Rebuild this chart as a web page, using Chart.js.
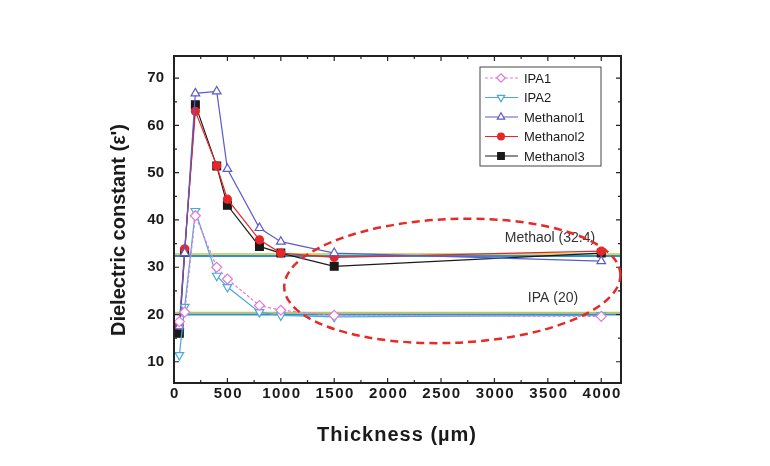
<!DOCTYPE html>
<html>
<head>
<meta charset="utf-8">
<script src="https://cdn.jsdelivr.net/npm/chart.js@4/dist/chart.umd.min.js"></script>
<style>
  html, body { margin: 0; padding: 0; background: #fff; }
  #wrap { width: 770px; height: 466px; position: relative; }
</style>
</head>
<body>
<div id="wrap"><canvas id="chart" width="770" height="466"></canvas></div>
<script>
"use strict";

// --- Data ---
const thickness = [50, 100, 200, 400, 500, 800, 1000, 1500, 4000];
const ipa1 = [18.5, 20.5, 40.9, 30.0, 27.5, 21.9, 20.9, 19.8, 19.6];
const ipa2 = [11.4, 21.6, 41.9, 28.2, 25.8, 20.5, 19.8, 19.5, 19.8];
const methanol1 = [17.5, 33.0, 66.8, 67.2, 50.8, 38.3, 35.4, 33.0, 31.3];
const methanol2 = [17.7, 33.9, 63.0, 51.5, 44.4, 35.8, 33.0, 32.1, 33.4];
const methanol3 = [16.0, 33.2, 64.4, 51.4, 43.1, 34.4, 33.0, 30.2, 33.0];

const xTicks = [0, 500, 1000, 1500, 2000, 2500, 3000, 3500, 4000];
const yTicks = [10, 20, 30, 40, 50, 60, 70];

// reference permittivities (horizontal lines)
const refValues = [32.4, 20];
const refLabels = ['Methaol (32.4)', 'IPA (20)'];

const toPoints = ys => thickness.map((x, i) => ({ x, y: ys[i] }));

// --- Plot frame geometry ---
const PLOT_LEFT = 174, PLOT_RIGHT = 621, PLOT_TOP = 56, PLOT_BOTTOM = 383;

const series = [
    { label: 'IPA1', data: ipa1, color: '#e07ad8', style: 'rectRot', rot: 0, fill: '#fff', dash: [3, 2], r: 5 },
    { label: 'IPA2', data: ipa2, color: '#4aa8dc', style: 'triangle', rot: 180, fill: '#fff', dash: [], r: 5 },
    { label: 'Methanol1', data: methanol1, color: '#5a5ad2', style: 'triangle', rot: 0, fill: '#fff', dash: [], r: 5 },
    { label: 'Methanol2', data: methanol2, color: '#e8262a', style: 'circle', rot: 0, fill: '#e8262a', dash: [], r: 4 },
    { label: 'Methanol3', data: methanol3, color: '#1a1a1a', style: 'rect', rot: 0, fill: '#1a1a1a', dash: [], r: 5.5 },
];

const datasets = series.map(s => ({
    label: s.label,
    data: toPoints(s.data),
    borderColor: s.color,
    borderWidth: 1.2,
    borderDash: s.dash,
    pointStyle: s.style,
    pointRotation: s.rot,
    pointRadius: s.r,
    pointBackgroundColor: s.fill,
    pointBorderColor: s.color,
    pointBorderWidth: 1.2,
    tension: 0,
    showLine: true,
}));

// Draws frame, inward ticks, tick labels, axis titles, reference lines, ellipse and legend
const decorPlugin = {
    id: 'decor',
    beforeDatasetsDraw(chart) {
        const { ctx, scales: { y } } = chart;
        ctx.save();
        refValues.forEach(v => {
            const py = y.getPixelForValue(v);
            ctx.strokeStyle = '#c9c832';
            ctx.lineWidth = 1.5;
            ctx.beginPath(); ctx.moveTo(PLOT_LEFT, py - 2); ctx.lineTo(PLOT_RIGHT, py - 2); ctx.stroke();
            ctx.strokeStyle = '#2f8fd0';
            ctx.lineWidth = 2;
            ctx.beginPath(); ctx.moveTo(PLOT_LEFT, py); ctx.lineTo(PLOT_RIGHT, py); ctx.stroke();
        });
        ctx.restore();
    },
    afterDatasetsDraw(chart) {
        const { ctx, scales: { x, y } } = chart;
        ctx.save();

        // frame
        ctx.strokeStyle = '#222';
        ctx.lineWidth = 2;
        ctx.strokeRect(PLOT_LEFT, PLOT_TOP, PLOT_RIGHT - PLOT_LEFT, PLOT_BOTTOM - PLOT_TOP);

        // inward ticks on all sides
        ctx.lineWidth = 1.2;
        ctx.beginPath();
        for (let v = 0; v <= 4000; v += 250) {
            const px = x.getPixelForValue(v);
            const len = v % 500 === 0 ? 5 : 3;
            ctx.moveTo(px, PLOT_BOTTOM); ctx.lineTo(px, PLOT_BOTTOM - len);
            ctx.moveTo(px, PLOT_TOP); ctx.lineTo(px, PLOT_TOP + len);
        }
        for (let v = 10; v <= 70; v += 5) {
            const py = y.getPixelForValue(v);
            const len = v % 10 === 0 ? 5 : 3;
            ctx.moveTo(PLOT_LEFT, py); ctx.lineTo(PLOT_LEFT + len, py);
            ctx.moveTo(PLOT_RIGHT, py); ctx.lineTo(PLOT_RIGHT - len, py);
        }
        ctx.stroke();

        // tick labels
        ctx.fillStyle = '#1a1a1a';
        ctx.font = 'bold 15px "Liberation Sans", Arial, sans-serif';
        ctx.textBaseline = 'middle';
        ctx.textAlign = 'center';
        ctx.letterSpacing = '1.5px';
        xTicks.forEach(v => ctx.fillText(String(v), x.getPixelForValue(v) + 1, 394));
        ctx.letterSpacing = '0px';
        ctx.textAlign = 'right';
        yTicks.forEach(v => ctx.fillText(String(v), 164, y.getPixelForValue(v)));

        // axis titles
        ctx.textAlign = 'center';
        ctx.font = 'bold 20px "Liberation Sans", Arial, sans-serif';
        ctx.letterSpacing = '1px';
        ctx.fillText('Thickness (\u00b5m)', 397, 435);
        ctx.letterSpacing = '0px';
        ctx.save();
        ctx.translate(119, 230);
        ctx.rotate(-Math.PI / 2);
        ctx.fillText('Dielectric constant (\u03b5\')', 0, 0);
        ctx.restore();

        // reference labels
        ctx.font = '14px "Liberation Sans", Arial, sans-serif';
        ctx.fillStyle = '#333';
        ctx.fillText(refLabels[0], 550, 238);
        ctx.fillText(refLabels[1], 553, 298);

        // dashed ellipse
        const cx = x.getPixelForValue(2606), cy = y.getPixelForValue(27.1);
        const rx = x.getPixelForValue(2606 + 1575) - cx;
        const ry = y.getPixelForValue(27.1 - 13.1) - cy;
        ctx.strokeStyle = '#e52a28';
        ctx.lineWidth = 2.5;
        ctx.setLineDash([8, 5]);
        ctx.beginPath();
        ctx.ellipse(cx, cy, rx, ry, -0.04, 0, Math.PI * 2);
        ctx.stroke();
        ctx.setLineDash([]);

        // legend
        const lx = 480, ly = 67, lw = 121, lh = 99;
        ctx.fillStyle = '#fff';
        ctx.fillRect(lx, ly, lw, lh);
        ctx.strokeStyle = '#444';
        ctx.lineWidth = 1;
        ctx.strokeRect(lx, ly, lw, lh);
        ctx.font = '13px "Liberation Sans", Arial, sans-serif';
        ctx.textAlign = 'left';
        chart.data.datasets.forEach((ds, i) => {
            const rowY = ly + 11 + i * 19.5;
            ctx.strokeStyle = ds.borderColor;
            ctx.lineWidth = 1.2;
            ctx.setLineDash(ds.borderDash);
            ctx.beginPath(); ctx.moveTo(lx + 5, rowY); ctx.lineTo(lx + 38, rowY); ctx.stroke();
            ctx.setLineDash([]);
            ctx.fillStyle = ds.pointBackgroundColor;
            ctx.strokeStyle = ds.pointBorderColor;
            Chart.helpers.drawPoint(ctx, {
                pointStyle: ds.pointStyle, rotation: ds.pointRotation,
                radius: ds.pointRadius * 0.85, borderWidth: ds.pointBorderWidth
            }, lx + 21, rowY);
            ctx.fillStyle = '#1a1a1a';
            ctx.fillText(ds.label, lx + 44, rowY + 1);
        });

        ctx.restore();
    }
};

new Chart(document.getElementById('chart').getContext('2d'), {
    type: 'scatter',
    data: { datasets },
    options: {
        responsive: false,
        animation: false,
        layout: { padding: { left: 0, right: 770 - PLOT_RIGHT, top: PLOT_TOP, bottom: 0 } },
        plugins: { legend: { display: false }, tooltip: { enabled: false } },
        scales: {
            x: {
                type: 'linear', min: 0, max: 4185,
                ticks: { display: false }, grid: { display: false }, border: { display: false },
                afterFit: s => { s.height = 466 - PLOT_BOTTOM; }
            },
            y: {
                type: 'linear', min: 5.5, max: 74.7,
                ticks: { display: false }, grid: { display: false }, border: { display: false },
                afterFit: s => { s.width = PLOT_LEFT; }
            }
        }
    },
    plugins: [decorPlugin]
});
</script>
</body>
</html>
